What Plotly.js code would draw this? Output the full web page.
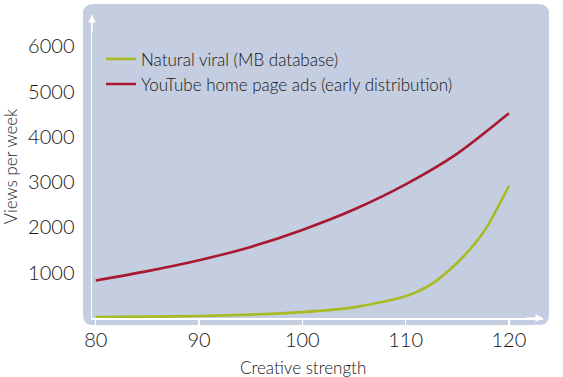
<!DOCTYPE html>
<html>
<head>
<meta charset="utf-8">
<script src="https://cdn.plot.ly/plotly-3.0.1.min.js"></script>
<style>html,body{margin:0;padding:0;background:#fff;}#chart{width:563px;height:377px;}</style>
</head>
<body>
<div id="chart"></div>
<script>
const creativeStrength = [80, 85, 90, 95, 100, 105, 107.5, 110, 112.5, 115, 117.5, 120];
const naturalViral = [20, 30, 45, 75, 130, 235, 345, 480, 750, 1220, 1880, 2920];
const youtubeX = [80, 85, 90, 95, 100, 105, 110, 115, 120];
const youtubeAds = [830, 1035, 1275, 1570, 1945, 2395, 2950, 3630, 4520];
const xTicks = [80, 90, 100, 110, 120];
const yTicks = [1000, 2000, 3000, 4000, 5000, 6000];
const seriesNames = ['Natural viral (MB database)', 'YouTube home page ads (early distribution)'];
const xTitle = 'Creative strength';
const yTitle = 'Views per week';

const FONT = 'Lato, "Open Sans", sans-serif';
const TXT = '#161616';
const W = 300;

const traces = [
  {x: creativeStrength, y: naturalViral, name: seriesNames[0], type: 'scatter', mode: 'lines',
   line: {color: '#a9bb24', width: 2.6, shape: 'spline', smoothing: 0.8}},
  {x: youtubeX, y: youtubeAds, name: seriesNames[1], type: 'scatter', mode: 'lines',
   line: {color: '#a8182f', width: 2.6, shape: 'spline', smoothing: 0.8}}
];

const L = -0.02, R = 1.0133, T = 1.0363, B = -0.0231, rx = 10/451, ry = 10/303;
const panel = `M ${L+rx},${T} L ${R-rx},${T} Q ${R},${T} ${R},${T-ry} L ${R},${B+ry} Q ${R},${B} ${R-rx},${B} L ${L+rx},${B} Q ${L},${B} ${L},${B+ry} L ${L},${T-ry} Q ${L},${T} ${L+rx},${T} Z`;

const layout = {
  width: 563, height: 377,
  margin: {l: 92, r: 20, t: 15, b: 59},
  paper_bgcolor: '#ffffff',
  plot_bgcolor: 'rgba(0,0,0,0)',
  font: {family: FONT, color: TXT, size: 16, weight: W},
  showlegend: true,
  legend: {x: 0.02, y: 0.913, xanchor: 'left', yanchor: 'top', bgcolor: 'rgba(0,0,0,0)',
    font: {family: FONT, size: 17, color: TXT, weight: W}, itemwidth: 30, tracegroupgap: 0},
  xaxis: {range: [79.64, 123.3], showgrid: false, zeroline: false, showline: true,
    linecolor: '#ffffff', linewidth: 1.5, ticks: 'outside', ticklen: 7, tickcolor: '#ffffff', tickwidth: 1.5,
    ticklabelstandoff: -4,
    tickvals: xTicks, ticktext: xTicks.map(String), tickfont: {size: 20, family: FONT, color: TXT, weight: W}, fixedrange: true},
  yaxis: {range: [0, 6690], showgrid: false, zeroline: false, showline: true,
    linecolor: '#ffffff', linewidth: 1.5, ticks: 'outside', ticklen: 12, tickcolor: 'rgba(0,0,0,0)',
    tickvals: yTicks, ticktext: yTicks.map(String), tickfont: {size: 20, family: FONT, color: TXT, weight: W},
    title: {text: yTitle, font: {size: 17, family: FONT, color: TXT, weight: W}, standoff: 8}, fixedrange: true},
  shapes: [{type: 'path', xref: 'paper', yref: 'paper', path: panel, fillcolor: '#c5cde0', line: {width: 0}, layer: 'below'}],
  annotations: [
    {xref: 'paper', yref: 'paper', x: 1, y: 0, ax: -18, ay: 0, text: '', showarrow: true, arrowhead: 2, arrowsize: 1, arrowwidth: 1.5, arrowcolor: '#ffffff'},
    {xref: 'paper', yref: 'paper', x: 0, y: 1, ax: 0, ay: 18, text: '', showarrow: true, arrowhead: 2, arrowsize: 1, arrowwidth: 1.5, arrowcolor: '#ffffff'},
    {xref: 'paper', yref: 'paper', x: 0.468, y: -0.162, xanchor: 'center', yanchor: 'middle', text: xTitle, showarrow: false,
     font: {size: 17, family: FONT, color: TXT, weight: W}}
  ]
};

Plotly.newPlot('chart', traces, layout, {displayModeBar: false, staticPlot: true});
</script>
</body>
</html>
